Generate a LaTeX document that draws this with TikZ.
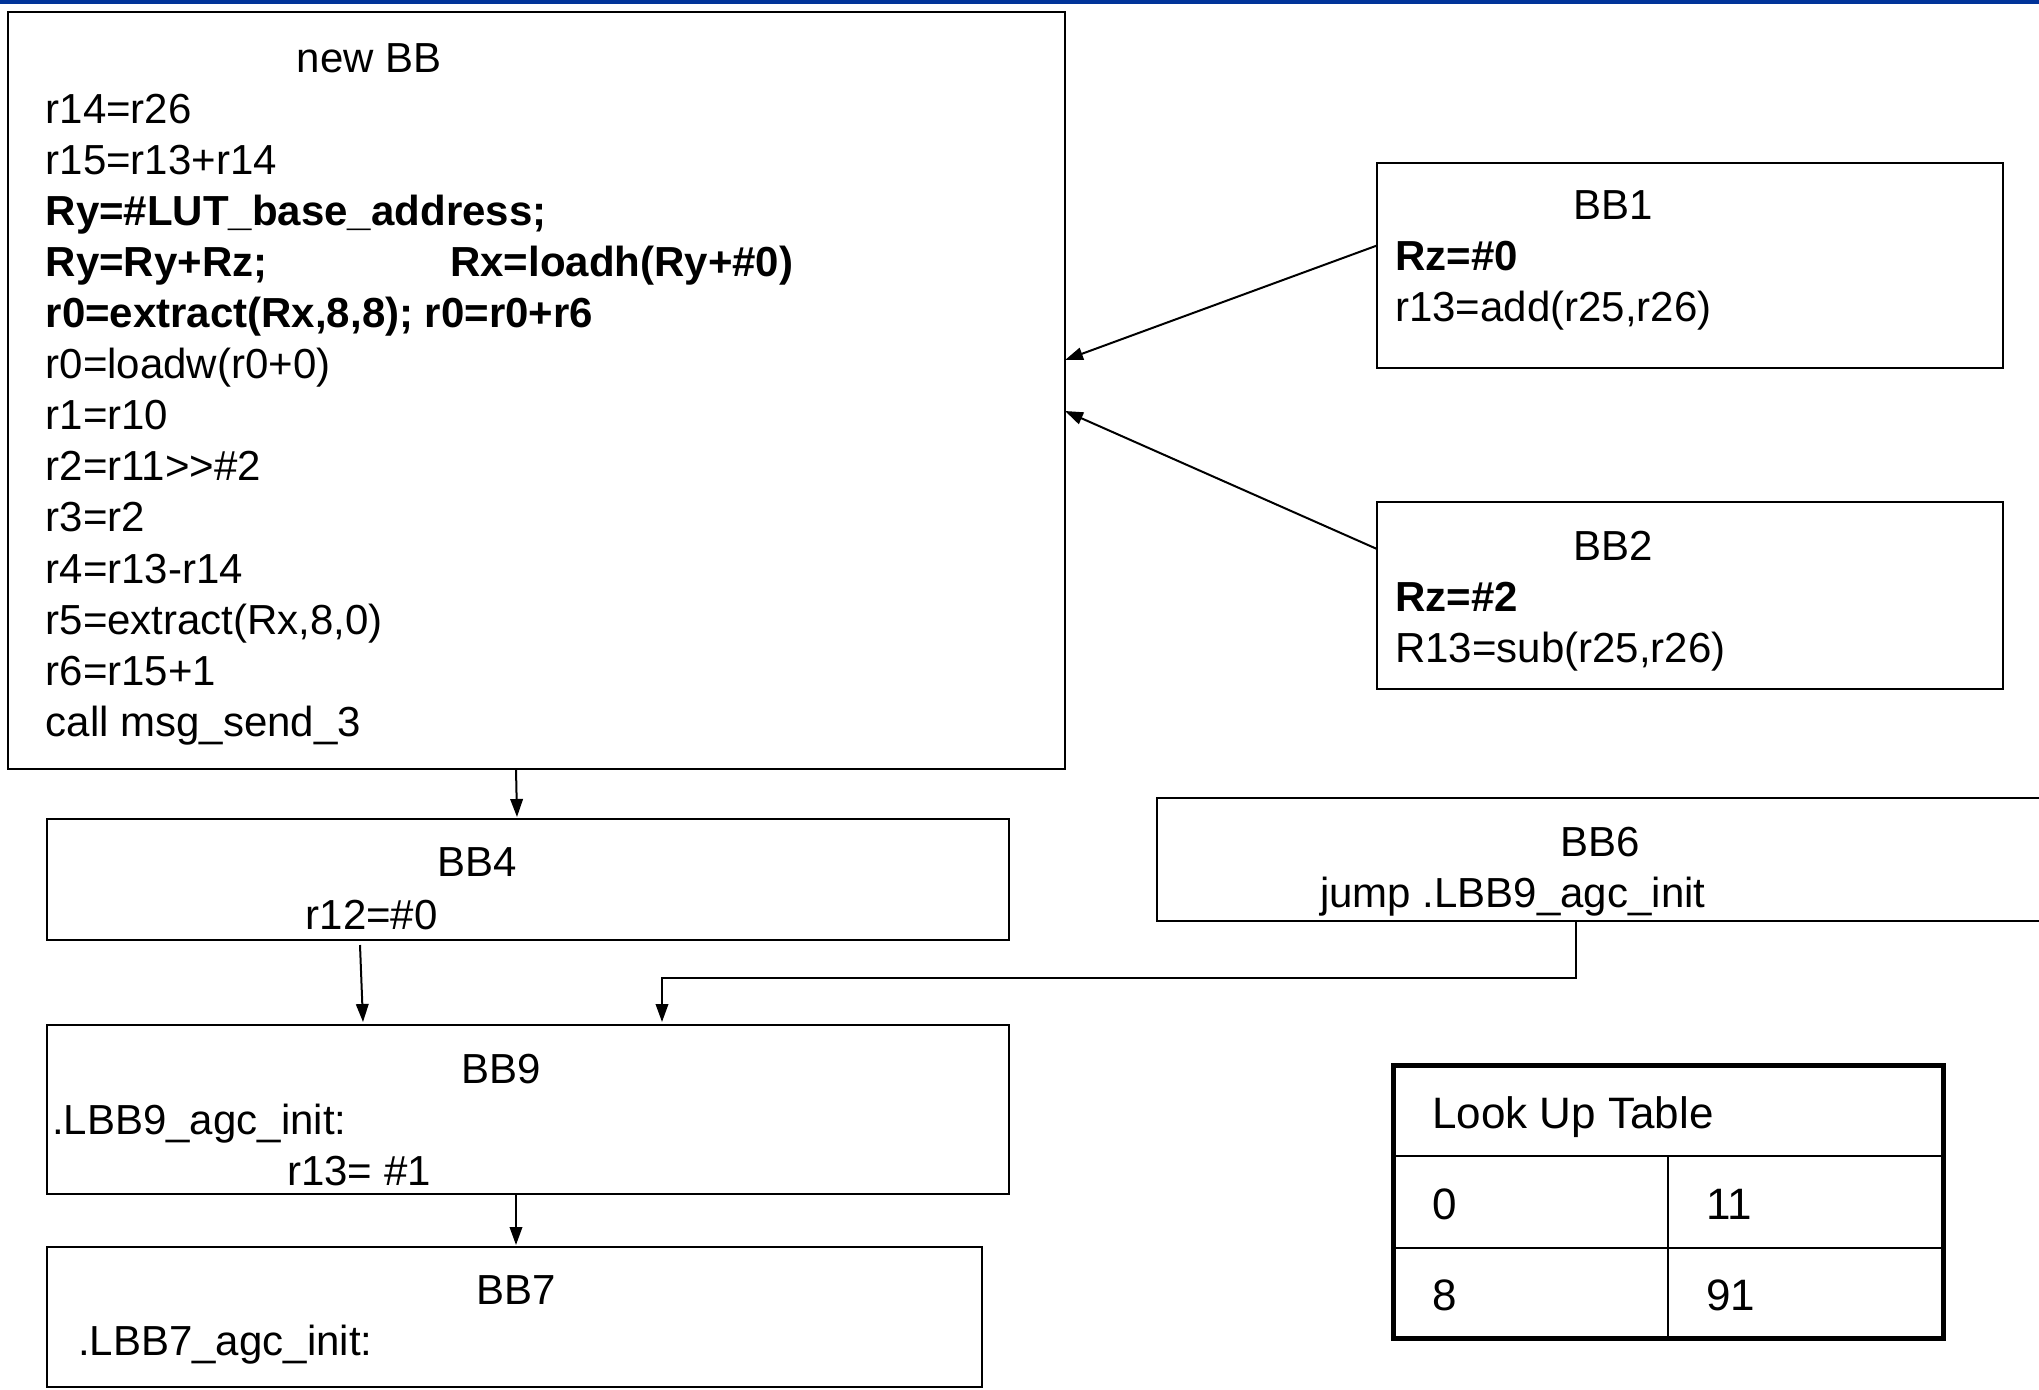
\documentclass[tikz,border=0pt]{standalone}
\usepackage{fontspec}
\setmainfont{Liberation Sans}
\usetikzlibrary{arrows.meta}
\definecolor{barblue}{RGB}{0,51,153}
\begin{document}
\begin{tikzpicture}[x=1pt,y=-1pt,
  block/.style={draw, line width=2.4pt, rectangle, inner sep=0pt, outer sep=0pt, anchor=north west},
  txt/.style={anchor=base west, inner sep=0pt, font=\fontsize{42}{51}\selectfont},
  tabtxt/.style={anchor=base west, inner sep=0pt, font=\fontsize{44}{52}\selectfont},
  arr/.style={line width=2pt, -{Triangle[length=18pt,width=12.5pt]}}]
\useasboundingbox (0,0) rectangle (2039,1389);
% title bar
\fill[barblue] (0,0) rectangle (2039,4.5);

% basic blocks
\node[block, minimum width=1057pt, minimum height=757pt] (newbb) at (8,12) {};
\node[block, minimum width=626pt, minimum height=205pt] (bb1) at (1377,163) {};
\node[block, minimum width=626pt, minimum height=187pt] (bb2) at (1377,502) {};
\node[block, minimum width=962pt, minimum height=121pt] (bb4) at (47,819) {};
\node[block, minimum width=913pt, minimum height=123pt] (bb6) at (1157,798) {};
\node[block, minimum width=962pt, minimum height=169pt] (bb9) at (47,1025) {};
\node[block, minimum width=935pt, minimum height=140pt] (bb7) at (47,1247) {};

% contents of the new block
\node[txt] (nbtitle) at (296.5,72) {new BB};
\foreach \t [count=\k] in {r14=r26, r15=r13+r14, \textbf{Ry=\#LUT\_base\_address;},
    \textbf{Ry=Ry+Rz;}, {\textbf{r0=extract(Rx,8,8); r0=r0+r6}}, r0=loadw(r0+0),
    r1=r10, r2=r11>{}>\#2, r3=r2, r4=r13-r14, {r5=extract(Rx,8,0)}, r6=r15+1,
    call msg\_send\_3}
  \node[txt] (nb\k) at (45.5,72+51.1*\k) {\t};
\node[txt] (nbload) at (450,72+51.1*4) {\textbf{Rx=loadh(Ry+\#0)}};

% BB1 and BB2
\node[txt] (bb1t) at (1573,219) {BB1};
\node[txt] (bb1a) at (1395,270) {\textbf{Rz=\#0}};
\node[txt] (bb1b) at (1395,321) {r13=add(r25,r26)};
\node[txt] (bb2t) at (1573,560) {BB2};
\node[txt] (bb2a) at (1395,611) {\textbf{Rz=\#2}};
\node[txt] (bb2b) at (1395,662) {R13=sub(r25,r26)};

% BB4, BB6, BB9, BB7
\node[txt] (bb4t) at (437,876) {BB4};
\node[txt] (bb4a) at (305.5,929) {r12=\#0};
\node[txt] (bb6t) at (1560.5,856) {BB6};
\node[txt] (bb6a) at (1320,907) {jump .LBB9\_agc\_init};
\node[txt] (bb9t) at (461.5,1083) {BB9};
\node[txt] (bb9a) at (52,1134.5) {.LBB9\_agc\_init:};
\node[txt] (bb9b) at (287,1185) {r13= \#1};
\node[txt] (bb7t) at (476,1304) {BB7};
\node[txt] (bb7a) at (78,1355.5) {.LBB7\_agc\_init:};

% look up table
\draw[line width=2.6pt] (1393,1156) -- (1943,1156);
\draw[line width=2.6pt] (1393,1248) -- (1943,1248);
\draw[line width=2.6pt] (1668,1156) -- (1668,1338);
\node[draw, line width=5pt, rectangle, inner sep=0pt, outer sep=0pt, anchor=north west,
      minimum width=550pt, minimum height=273pt] (lut) at (1393,1065) {};
\node[tabtxt] (luttitle) at (1432,1128) {Look Up Table};
\node[tabtxt] (lutk0) at (1432,1219) {0};
\node[tabtxt] (lutv0) at (1706,1219) {11};
\node[tabtxt] (lutk1) at (1432,1310) {8};
\node[tabtxt] (lutv1) at (1706,1310) {91};

% control flow edges
\draw[arr] ([yshift=20pt]bb1.west) -- ([yshift=30.5pt]newbb.east);
\draw[arr] ([yshift=46.5pt]bb2.west) -- ([yshift=-20.5pt]newbb.east);
\draw[arr] ([xshift=-20.5pt]newbb.south) -- ([xshift=-11pt,yshift=2pt]bb4.north);
\draw[arr] ([xshift=-168pt,yshift=-5pt]bb4.south) -- ([xshift=-165pt,yshift=3pt]bb9.north);
\coordinate (bend) at (1576,978);
\draw[arr] (bb6.south -| bend) -- (bend) -| ([xshift=134pt,yshift=3pt]bb9.north);
\draw[arr] ([xshift=-12pt]bb9.south) -- ([xshift=1.5pt,yshift=2pt]bb7.north);
\end{tikzpicture}
\end{document}
